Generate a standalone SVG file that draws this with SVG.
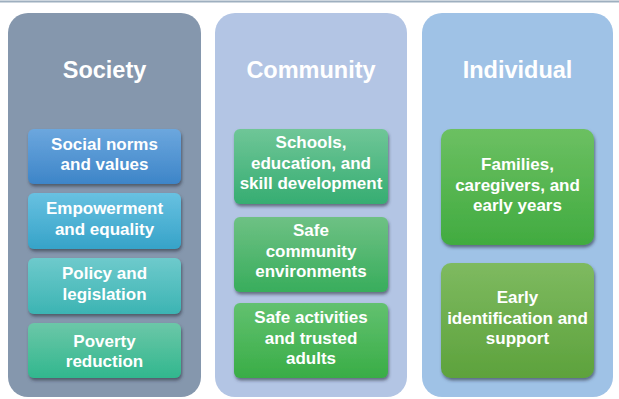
<svg xmlns="http://www.w3.org/2000/svg" width="619" height="399" viewBox="0 0 619 399">
<defs>
<style>
.title{font-family:"Liberation Sans",Arial,sans-serif;font-weight:bold;font-size:23.5px;fill:#ffffff;text-anchor:middle}
.lbl{font-family:"Liberation Sans",Arial,sans-serif;font-weight:bold;font-size:17px;fill:#ffffff;text-anchor:middle}
.box{filter:url(#sh)}
</style>
<filter id="sh" x="-10%" y="-10%" width="125%" height="130%">
<feDropShadow dx="1" dy="2.5" stdDeviation="1.5" flood-color="#2a3040" flood-opacity="0.6"/>
</filter>
<linearGradient id="g1" x1="0" y1="0" x2="0" y2="1"><stop offset="0" stop-color="#6ca7de"/><stop offset="1" stop-color="#3d85c8"/></linearGradient>
<linearGradient id="g2" x1="0" y1="0" x2="0" y2="1"><stop offset="0" stop-color="#68c1e1"/><stop offset="1" stop-color="#36a3c8"/></linearGradient>
<linearGradient id="g3" x1="0" y1="0" x2="0" y2="1"><stop offset="0" stop-color="#6ecacc"/><stop offset="1" stop-color="#3cb4b3"/></linearGradient>
<linearGradient id="g4" x1="0" y1="0" x2="0" y2="1"><stop offset="0" stop-color="#6cc7a8"/><stop offset="1" stop-color="#31b78e"/></linearGradient>
<linearGradient id="c1" x1="0" y1="0" x2="0" y2="1"><stop offset="0" stop-color="#6fc697"/><stop offset="1" stop-color="#36ad72"/></linearGradient>
<linearGradient id="c2" x1="0" y1="0" x2="0" y2="1"><stop offset="0" stop-color="#6ec184"/><stop offset="1" stop-color="#38ad5c"/></linearGradient>
<linearGradient id="c3" x1="0" y1="0" x2="0" y2="1"><stop offset="0" stop-color="#62c170"/><stop offset="1" stop-color="#39ad46"/></linearGradient>
<linearGradient id="i1" x1="0" y1="0" x2="0" y2="1"><stop offset="0" stop-color="#6cc062"/><stop offset="1" stop-color="#41ab40"/></linearGradient>
<linearGradient id="i2" x1="0" y1="0" x2="0" y2="1"><stop offset="0" stop-color="#7eba60"/><stop offset="1" stop-color="#5da23c"/></linearGradient>
</defs>
<rect width="619" height="399" fill="#ffffff"/>
<line x1="0" y1="1.5" x2="619" y2="1.5" stroke="#9eafbf" stroke-width="2"/>

<g id="society">
<rect x="8" y="13" width="193" height="384" rx="20" fill="#8597ad"/>
<text class="title" x="104.5" y="78">Society</text>
</g>
<g id="community">
<rect x="215" y="13" width="192" height="384" rx="20" fill="#b3c5e4"/>
<text class="title" x="311" y="78">Community</text>
</g>
<g id="individual">
<rect x="422" y="13" width="191" height="384" rx="20" fill="#9fc2e6"/>
<text class="title" x="517.5" y="78">Individual</text>
</g>

<g id="social-norms">
<rect class="box" x="28" y="129" width="153" height="55" rx="6" fill="url(#g1)"/>
<text class="lbl" x="104.5" y="150">Social norms</text>
<text class="lbl" x="104.5" y="170">and values</text>
</g>
<g id="empowerment">
<rect class="box" x="28" y="193" width="153" height="56" rx="6" fill="url(#g2)"/>
<text class="lbl" x="104.5" y="214">Empowerment</text>
<text class="lbl" x="104.5" y="235">and equality</text>
</g>
<g id="policy">
<rect class="box" x="28" y="258" width="153" height="56" rx="6" fill="url(#g3)"/>
<text class="lbl" x="104.5" y="279">Policy and</text>
<text class="lbl" x="104.5" y="300">legislation</text>
</g>
<g id="poverty">
<rect class="box" x="28" y="323" width="153" height="55" rx="6" fill="url(#g4)"/>
<text class="lbl" x="104.5" y="347">Poverty</text>
<text class="lbl" x="104.5" y="367">reduction</text>
</g>

<g id="schools">
<rect class="box" x="234" y="129" width="154" height="75" rx="6" fill="url(#c1)"/>
<text class="lbl" x="311" y="148">Schools,</text>
<text class="lbl" x="311" y="168.5">education, and</text>
<text class="lbl" x="311" y="189">skill development</text>
</g>
<g id="safe-env">
<rect class="box" x="234" y="217" width="154" height="75" rx="6" fill="url(#c2)"/>
<text class="lbl" x="311" y="236">Safe</text>
<text class="lbl" x="311" y="256.5">community</text>
<text class="lbl" x="311" y="277">environments</text>
</g>
<g id="safe-activities">
<rect class="box" x="234" y="303" width="154" height="75" rx="6" fill="url(#c3)"/>
<text class="lbl" x="311" y="323">Safe activities</text>
<text class="lbl" x="311" y="343.5">and trusted</text>
<text class="lbl" x="311" y="364">adults</text>
</g>

<g id="families">
<rect class="box" x="441" y="129" width="153" height="116" rx="10" fill="url(#i1)"/>
<text class="lbl" x="517.5" y="170">Families,</text>
<text class="lbl" x="517.5" y="190.5">caregivers, and</text>
<text class="lbl" x="517.5" y="211">early years</text>
</g>
<g id="early-id">
<rect class="box" x="441" y="263" width="153" height="115" rx="10" fill="url(#i2)"/>
<text class="lbl" x="517.5" y="303">Early</text>
<text class="lbl" x="517.5" y="323.5">identification and</text>
<text class="lbl" x="517.5" y="344">support</text>
</g>
<g id="connectors"></g>
</svg>
